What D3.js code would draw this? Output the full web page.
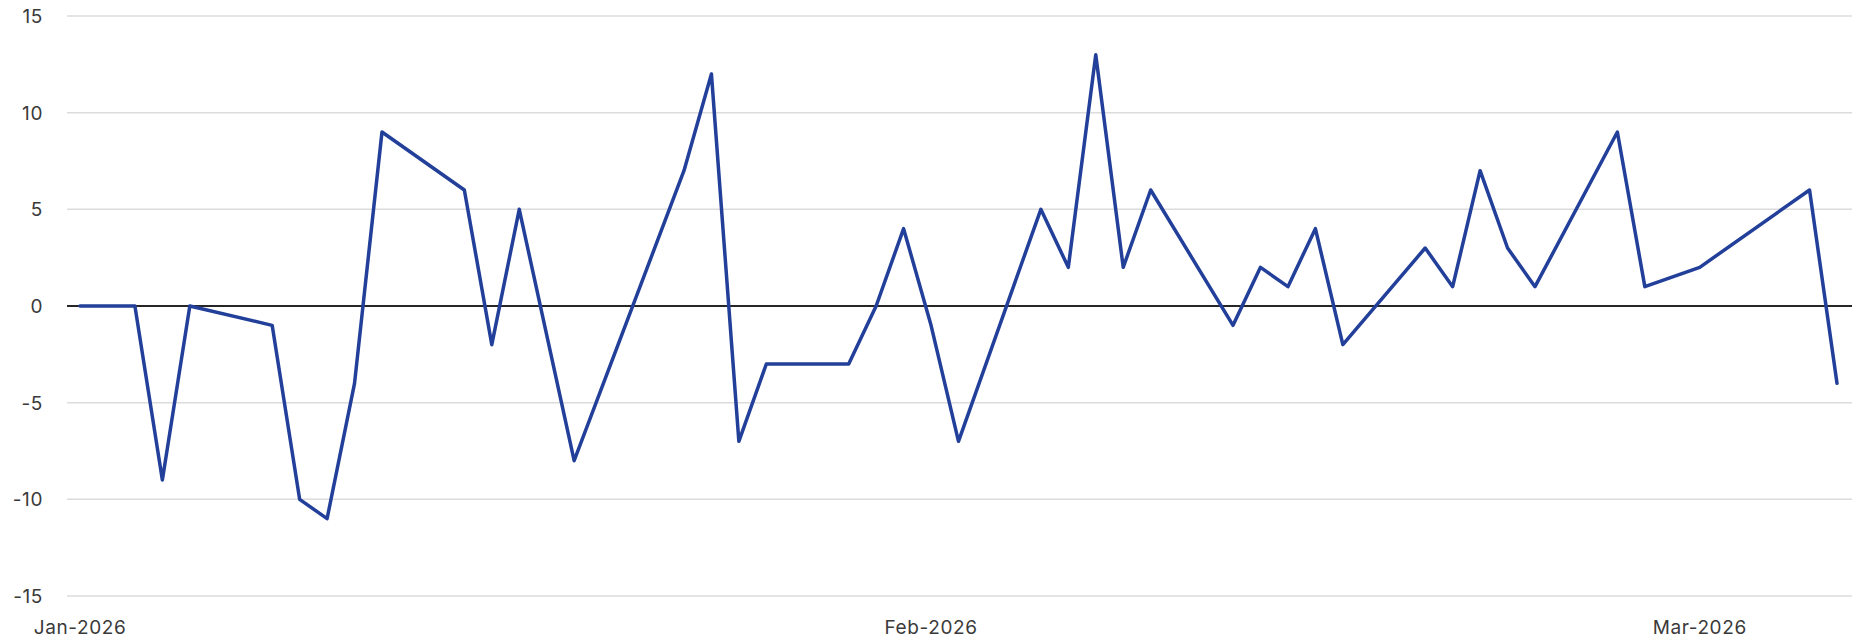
<!DOCTYPE html>
<html>
<head>
<meta charset="utf-8">
<script src="https://cdn.jsdelivr.net/npm/d3@7"></script>
<style>
  html, body { margin: 0; padding: 0; background: #fff; }
  svg { display: block; }
  .tick-label { font-family: Inter, "Liberation Sans", sans-serif; font-size: 19px; fill: #3a3a3a; letter-spacing: 0.6px; }
</style>
</head>
<body>
<svg id="chart" width="1856" height="639"></svg>
<script>
// Datos: fechas y valores
const dates = [
  '2026-01-01', '2026-01-03', '2026-01-04', '2026-01-05', '2026-01-08', '2026-01-09',
  '2026-01-10', '2026-01-11', '2026-01-12', '2026-01-15', '2026-01-16', '2026-01-17',
  '2026-01-19', '2026-01-23', '2026-01-24', '2026-01-25', '2026-01-26', '2026-01-29',
  '2026-01-30', '2026-01-31', '2026-02-01', '2026-02-02', '2026-02-05', '2026-02-06',
  '2026-02-07', '2026-02-08', '2026-02-09', '2026-02-12', '2026-02-13', '2026-02-14',
  '2026-02-15', '2026-02-16', '2026-02-19', '2026-02-20', '2026-02-21', '2026-02-22',
  '2026-02-23', '2026-02-26', '2026-02-27', '2026-03-01', '2026-03-05', '2026-03-06'
];
const values = [
  0, 0, -9, 0, -1, -10,
  -11, -4, 9, 6, -2, 5,
  -8, 7, 12, -7, -3, -3,
  0, 4, -1, -7, 5, 2,
  13, 2, 6, -1, 2, 1,
  4, -2, 3, 1, 7, 3,
  1, 9, 1, 2, 6, -4
];
const yTicks = [-15, -10, -5, 0, 5, 10, 15];
const xTicks = ['2026-01-01', '2026-02-01', '2026-03-01'];

const parseDate = d3.timeParse('%Y-%m-%d');
const data = dates.map((d, i) => ({ date: parseDate(d), value: values[i] }));

const svg = d3.select('#chart');

// Area del grafico
const GRID_LEFT = 67;
const GRID_RIGHT = 1852;

const x = d3.scaleTime()
  .domain(d3.extent(data, d => d.date))
  .range([80, 1837]);

const y = d3.scaleLinear()
  .domain([-15, 15])
  .range([596, 16]);

// Lineas de cuadricula horizontales
svg.append('g')
  .selectAll('line')
  .data(yTicks.filter(t => t !== 0))
  .enter()
  .append('line')
  .attr('x1', GRID_LEFT)
  .attr('x2', GRID_RIGHT)
  .attr('y1', d => y(d))
  .attr('y2', d => y(d))
  .attr('stroke', '#dcdcdc')
  .attr('stroke-width', 1.5);

// Etiquetas del eje Y
svg.append('g')
  .selectAll('text')
  .data(yTicks)
  .enter()
  .append('text')
  .attr('class', 'tick-label')
  .attr('x', 43)
  .attr('y', d => y(d))
  .attr('dy', '0.36em')
  .attr('text-anchor', 'end')
  .text(d => d);

// Linea del cero
svg.append('line')
  .attr('x1', GRID_LEFT)
  .attr('x2', GRID_RIGHT)
  .attr('y1', y(0))
  .attr('y2', y(0))
  .attr('stroke', '#262626')
  .attr('stroke-width', 1.8);

// Etiquetas del eje X
const fmt = d3.timeFormat('%b-%Y');
svg.append('g')
  .selectAll('text')
  .data(xTicks.map(parseDate))
  .enter()
  .append('text')
  .attr('class', 'tick-label')
  .attr('x', d => x(d))
  .attr('y', 634)
  .attr('text-anchor', 'middle')
  .text(d => fmt(d));

// Serie
const line = d3.line()
  .x(d => x(d.date))
  .y(d => y(d.value));

svg.append('path')
  .datum(data)
  .attr('d', line)
  .attr('fill', 'none')
  .attr('stroke', '#223f9a')
  .attr('stroke-width', 3.5)
  .attr('stroke-linejoin', 'round')
  .attr('stroke-linecap', 'round');
</script>
</body>
</html>
